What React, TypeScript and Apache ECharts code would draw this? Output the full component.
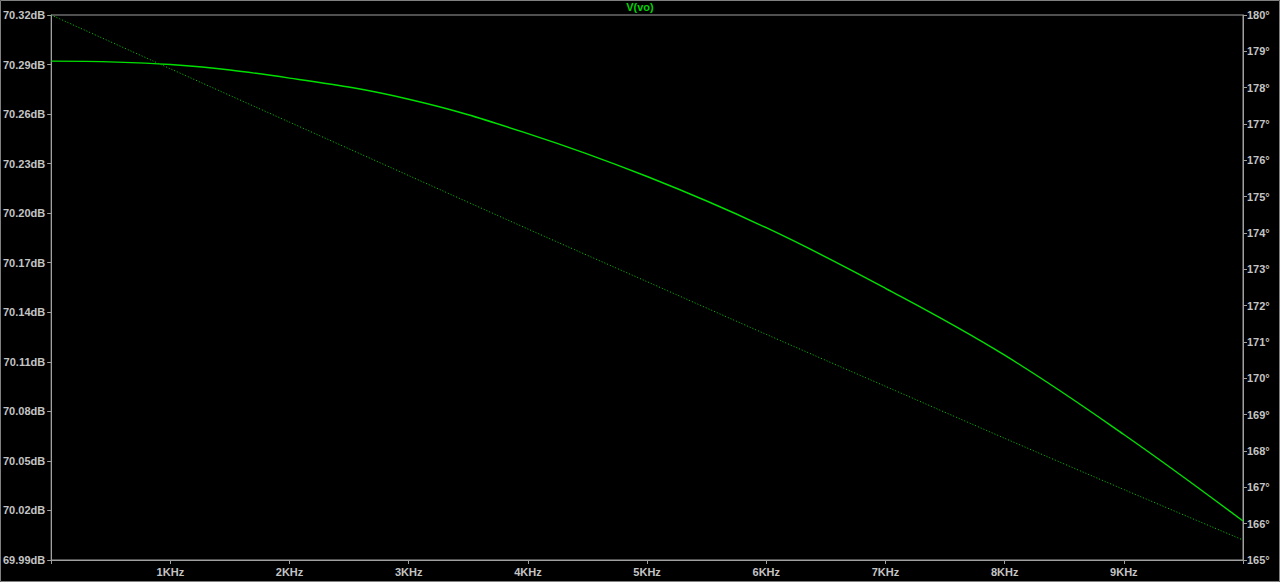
import React, { useEffect, useRef } from "react";
import * as echarts from "echarts";

const freqs = [0, 1000, 2000, 3000, 4000, 5000, 6000, 7000, 8000, 9000, 10000];
const magnitudeDb = [70.2921, 70.29, 70.2818, 70.269, 70.2482, 70.2222, 70.1912, 70.1545, 70.114, 70.066, 70.0136];
const phaseDeg = [180, 178.52, 177.05, 175.58, 174.11, 172.66, 171.21, 169.78, 168.35, 166.94, 165.55];
const traceName = "V(vo)";

export default function App() {
  const ref = useRef<HTMLDivElement>(null);
  useEffect(() => {
    document.body.style.margin = "0";
    document.body.style.background = "#000";
    const chart = echarts.init(ref.current!, null, { renderer: "svg" });
    const axisColor = "#a0a0a0";
    const labelColor = "#c4c4c4";
    const font = "Liberation Sans, Arial, sans-serif";
    chart.setOption({
      animation: false,
      backgroundColor: "#000",
      title: {
        text: traceName,
        left: "center",
        top: 1,
        padding: 0,
        textStyle: { color: "#00d400", fontSize: 11, fontWeight: "bold", fontFamily: font },
      },
      grid: {
        left: 49,
        right: 37,
        top: 15,
        bottom: 22,
        show: true,
        borderColor: axisColor,
        borderWidth: 1,
        backgroundColor: "#000",
      },
      xAxis: {
        type: "value",
        min: 0,
        max: 10000,
        interval: 1000,
        axisLine: { show: true, lineStyle: { color: axisColor } },
        axisTick: { show: true, length: 4, lineStyle: { color: axisColor } },
        splitLine: { show: false },
        axisLabel: {
          color: labelColor,
          fontSize: 11,
          fontWeight: "bold",
          fontFamily: font,
          margin: 6,
          formatter: (v: number) => (v === 0 || v === 10000 ? "" : v / 1000 + "KHz"),
        },
      },
      yAxis: [
        {
          type: "value",
          min: 69.99,
          max: 70.32,
          interval: 0.03,
          position: "left",
          axisLine: { show: true, lineStyle: { color: axisColor } },
          axisTick: { show: true, length: 4, lineStyle: { color: axisColor } },
          splitLine: { show: false },
          axisLabel: {
            color: labelColor,
            fontSize: 11,
            fontWeight: "bold",
            fontFamily: font,
            margin: 6,
            formatter: (v: number) => v.toFixed(2) + "dB",
          },
        },
        {
          type: "value",
          min: 165,
          max: 180,
          interval: 1,
          position: "right",
          axisLine: { show: true, lineStyle: { color: axisColor } },
          axisTick: { show: true, length: 4, lineStyle: { color: axisColor } },
          splitLine: { show: false },
          axisLabel: {
            color: labelColor,
            fontSize: 11,
            fontWeight: "bold",
            fontFamily: font,
            margin: 4,
            formatter: (v: number) => Math.round(v) + "°",
          },
        },
      ],
      graphic: [
        {
          type: "rect",
          shape: { x: 0.5, y: 0.5, width: 1279, height: 581 },
          style: { fill: "none", stroke: "#808080", lineWidth: 1 },
          silent: true,
        },
      ],
      series: [
        {
          name: "magnitude",
          type: "line",
          yAxisIndex: 0,
          data: freqs.map((f, i) => [f, magnitudeDb[i]]),
          smooth: 0.4,
          showSymbol: false,
          lineStyle: { color: "#00e000", width: 1.4 },
        },
        {
          name: "phase",
          type: "line",
          yAxisIndex: 1,
          data: freqs.map((f, i) => [f, phaseDeg[i]]),
          smooth: 0.3,
          showSymbol: false,
          lineStyle: { color: "#00d000", width: 1, type: [1, 2] },
        },
      ],
    });
    return () => chart.dispose();
  }, []);
  return <div ref={ref} style={{ width: 1280, height: 582 }} />;
}
